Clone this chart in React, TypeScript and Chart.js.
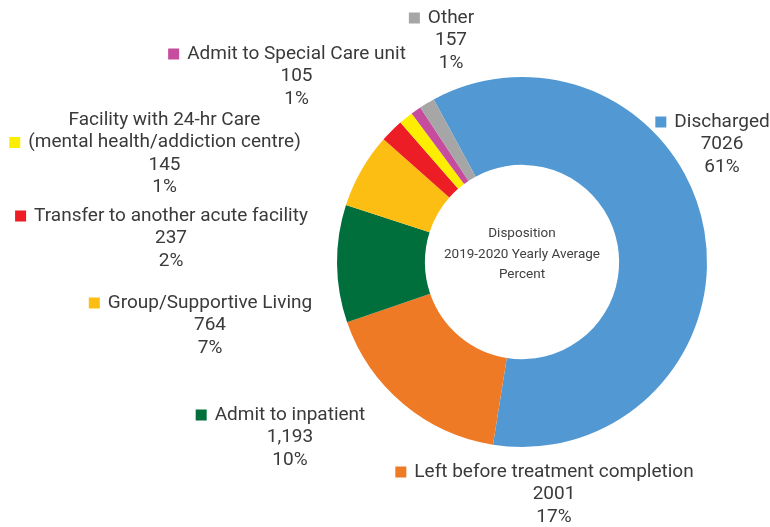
import React, { useEffect, useRef } from "react";
import { Chart, registerables } from "chart.js";

Chart.register(...registerables);

const categories: string[][] = [
  ["Discharged"],
  ["Left before treatment completion"],
  ["Admit to inpatient"],
  ["Group/Supportive Living"],
  ["Transfer to another acute facility"],
  ["Facility with 24-hr Care", "(mental health/addiction centre)"],
  ["Admit to Special Care unit"],
  ["Other"],
];
const values: number[] = [7026, 2001, 1193, 764, 237, 145, 105, 157];
const valueLabels: string[] = ["7026", "2001", "1,193", "764", "237", "145", "105", "157"];
const percentLabels: string[] = ["61%", "17%", "10%", "7%", "2%", "1%", "1%", "1%"];
const colors: string[] = [
  "#5299D3",
  "#EE7A26",
  "#006F3C",
  "#FDBE14",
  "#EC1D25",
  "#FDEE00",
  "#C64C9E",
  "#A6A6A6",
];
const centerLines: string[] = ["Disposition", "2019-2020 Yearly Average", "Percent"];

// label block anchors relative to the doughnut centre: [centre x of text, y of first line]
const labelAnchors: [number, number][] = [
  [200, -140],
  [32, 210],
  [-232, 153],
  [-312, 41],
  [-351, -46],
  [-357.5, -142],
  [-225.5, -208],
  [-71, -244],
];

const FONT = "Roboto, 'Liberation Sans', Arial, sans-serif";
const TEXT_COLOR = "#3a3a3a";

const labelPlugin = {
  id: "outerLabels",
  afterDraw(chart: any) {
    const ctx = chart.ctx;
    const meta = chart.getDatasetMeta(0);
    const arc0 = meta.data[0];
    if (!arc0) return;
    const cx = arc0.x;
    const cy = arc0.y;
    const lh = 22.5;
    ctx.save();
    ctx.textBaseline = "middle";
    ctx.textAlign = "center";
    // centre text
    ctx.font = `13.5px ${FONT}`;
    ctx.fillStyle = "#404040";
    centerLines.forEach((t, i) => {
      ctx.fillText(t, cx, cy - 28 + i * 20.5);
    });
    // outer labels
    ctx.font = `19px ${FONT}`;
    categories.forEach((lines, i) => {
      const [dx, dy] = labelAnchors[i];
      const bx = cx + dx;
      let y = cy + dy;
      lines.forEach((line, li) => {
        ctx.fillStyle = TEXT_COLOR;
        ctx.textAlign = "center";
        ctx.fillText(line, bx, y);
        if (li === lines.length - 1) {
          const w = ctx.measureText(line).width;
          ctx.fillStyle = colors[i];
          ctx.fillRect(bx - w / 2 - 19, y - 5.5, 11, 11);
        }
        y += lh;
      });
      ctx.fillStyle = TEXT_COLOR;
      ctx.fillText(valueLabels[i], bx, y);
      y += lh;
      ctx.fillText(percentLabels[i], bx, y);
    });
    ctx.restore();
  },
};

export default function App() {
  const ref = useRef<HTMLCanvasElement | null>(null);
  useEffect(() => {
    if (!ref.current) return;
    const chart = new Chart(ref.current, {
      type: "doughnut",
      data: {
        labels: categories.map((c) => c.join(" ")),
        datasets: [
          {
            data: values,
            backgroundColor: colors,
            borderWidth: 0,
            hoverOffset: 0,
          },
        ],
      },
      options: {
        responsive: false,
        animation: false,
        rotation: -28.5,
        cutout: "52.5%",
        layout: { padding: { left: 337, right: 63, top: 77, bottom: 80 } },
        plugins: {
          legend: { display: false },
          tooltip: { enabled: false },
        },
      },
      plugins: [labelPlugin],
    });
    return () => chart.destroy();
  }, []);
  return (
    <div style={{ position: "absolute", left: 0, top: 0, width: 770, height: 527, background: "#fff" }}>
      <canvas ref={ref} width={770} height={527} />
    </div>
  );
}
